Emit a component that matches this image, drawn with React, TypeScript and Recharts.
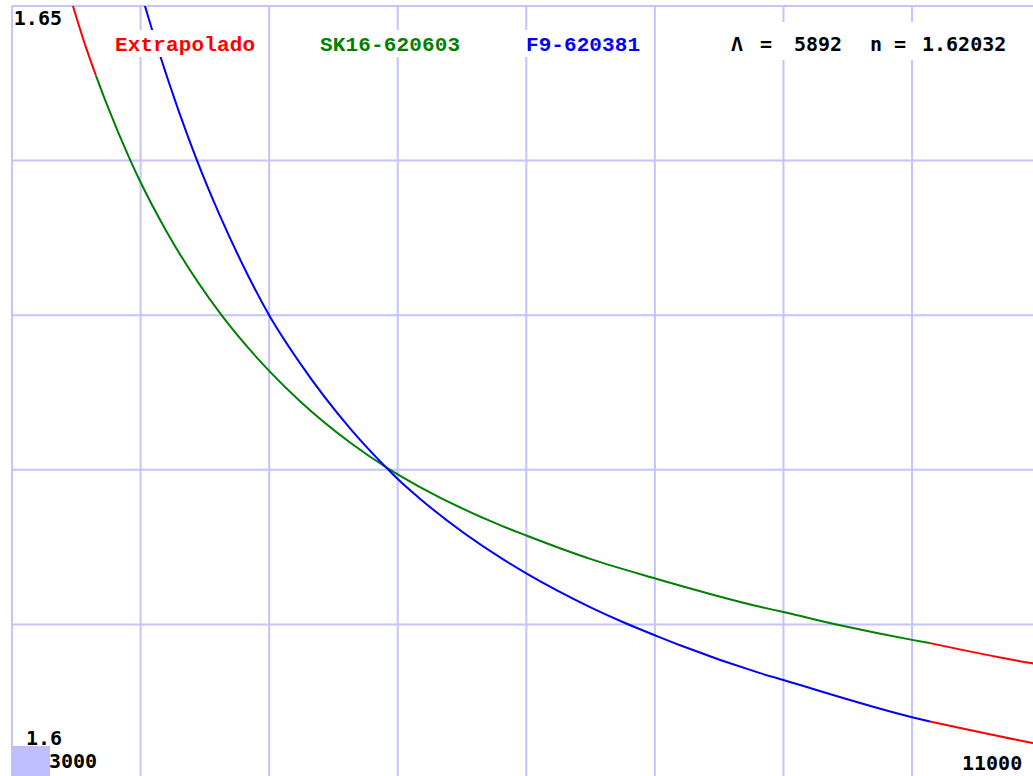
import React from 'react';
import { LineChart, Line, XAxis, YAxis, CartesianGrid } from 'recharts';

// Axis ticks (wavelength in Å, refractive index)
const xTicks = [3000, 4000, 5000, 6000, 7000, 8000, 9000, 10000, 11000];
const yTicks = [1.6, 1.61, 1.62, 1.63, 1.64, 1.65];

// SK16-620603 (measured range)
const sk16Lambda = [3653, 3737, 3923, 4000, 4203, 4618, 4903, 5000, 5240, 5629, 5924, 6000, 6173, 6796, 7000, 7496, 8000, 8818, 9000, 9440, 10000, 10140];
const sk16N = [1.6455, 1.64365, 1.63997, 1.6386, 1.6354, 1.63013, 1.62727, 1.6264, 1.62444, 1.62177, 1.62009, 1.6197, 1.61888, 1.61642, 1.61575, 1.61424, 1.61298, 1.61114, 1.6108, 1.60994, 1.609, 1.60879];

// F9-620381 (measured range)
const f9Lambda = [4034, 4151, 4294, 4431, 4618, 4825, 5000, 5240, 5629, 5924, 6000, 6173, 6796, 7000, 7496, 7768, 8000, 8196, 8818, 9000, 10000, 10140];
const f9N = [1.65, 1.64681, 1.64327, 1.64018, 1.63642, 1.63275, 1.63, 1.6269, 1.62268, 1.62003, 1.6194, 1.61813, 1.61433, 1.6133, 1.61112, 1.61009, 1.6093, 1.60865, 1.60685, 1.6064, 1.604, 1.60372];

// Extrapolated parts
const sk16LowLambda = [3474, 3568, 3653];
const sk16LowN = [1.65, 1.6475, 1.6455];
const sk16HighLambda = [10140, 10926, 11000];
const sk16HighN = [1.60879, 1.6075, 1.6074];
const f9HighLambda = [10140, 10926, 11000];
const f9HighN = [1.60372, 1.60235, 1.60223];

// Labels
const legendLabels = ['Extrapolado', 'SK16-620603', 'F9-620381'];
const readout = ['Λ', '=', '5892', 'n', '=', '1.62032'];
const yTickLabels = ['1.65', '1.6'];
const xTickLabels = ['3000', '11000'];

const zip = (l: number[], n: number[]) => l.map((x, i) => ({ lambda: x, n: n[i] }));

const GRID = '#c4c4ff';
const RED = '#ff0000';
const GREEN = '#008000';
const BLUE = '#0000ff';

const CHART_W = 1060;
const CHART_H = 800;

export default function App() {
  const colored = { fontFamily: '"Liberation Mono", monospace', fontWeight: 700, fontSize: 21 } as const;
  const black = { fontFamily: '"DejaVu Sans Mono", monospace', fontWeight: 700, fontSize: 20, fill: '#000' } as const;
  const lineProps = { dataKey: 'n', type: 'monotone' as const, strokeWidth: 2, dot: false, activeDot: false, isAnimationActive: false };
  return (
    <div style={{ position: 'absolute', left: 0, top: 0, width: 1033, height: 776, overflow: 'hidden', background: '#fff' }}>
      <LineChart
        width={CHART_W}
        height={CHART_H}
        margin={{ top: 6, left: 12, right: CHART_W - 1040.6, bottom: CHART_H - 779 }}
      >
        <CartesianGrid stroke={GRID} strokeWidth={2} />
        <XAxis type="number" dataKey="lambda" domain={[3000, 11000]} ticks={xTicks} hide allowDataOverflow />
        <YAxis type="number" dataKey="n" domain={[1.6, 1.65]} ticks={yTicks} hide allowDataOverflow />
        <Line data={zip(sk16LowLambda, sk16LowN)} stroke={RED} {...lineProps} />
        <Line data={zip(sk16Lambda, sk16N)} stroke={GREEN} {...lineProps} />
        <Line data={zip(sk16HighLambda, sk16HighN)} stroke={RED} {...lineProps} />
        <Line data={zip(f9Lambda, f9N)} stroke={BLUE} {...lineProps} />
        <Line data={zip(f9HighLambda, f9HighN)} stroke={RED} {...lineProps} />
      </LineChart>
      <svg width={1033} height={776} style={{ position: 'absolute', left: 0, top: 0, pointerEvents: 'none' }}>
        {/* legend backgrounds */}
        <rect x={112} y={30} width={146} height={27} fill="#fff" />
        <rect x={317} y={30} width={146} height={27} fill="#fff" />
        <rect x={523} y={30} width={120} height={27} fill="#fff" />
        <rect x={728} y={22} width={290} height={38} fill="#fff" />
        <text x={115} y={51} fill={RED} {...colored} textLength={140} lengthAdjust="spacing">{legendLabels[0]}</text>
        <text x={320} y={51} fill={GREEN} {...colored} textLength={140} lengthAdjust="spacing">{legendLabels[1]}</text>
        <text x={526} y={51} fill={BLUE} {...colored} textLength={114} lengthAdjust="spacing">{legendLabels[2]}</text>
        <text x={731} y={51} {...black}>{readout[0]}</text>
        <text x={760} y={51} {...black}>{readout[1]}</text>
        <text x={794} y={51} {...black}>{readout[2]}</text>
        <text x={870} y={51} {...black}>{readout[3]}</text>
        <text x={894} y={51} {...black}>{readout[4]}</text>
        <text x={922} y={51} {...black}>{readout[5]}</text>
        {/* axis labels */}
        <text x={62} y={25} textAnchor="end" {...black}>{yTickLabels[0]}</text>
        <rect x={12} y={746} width={38} height={30} fill="#bfbfff" />
        <text x={62} y={745} textAnchor="end" {...black}>{yTickLabels[1]}</text>
        <text x={49} y={768} {...black}>{xTickLabels[0]}</text>
        <text x={962} y={770} {...black}>{xTickLabels[1]}</text>
      </svg>
    </div>
  );
}
